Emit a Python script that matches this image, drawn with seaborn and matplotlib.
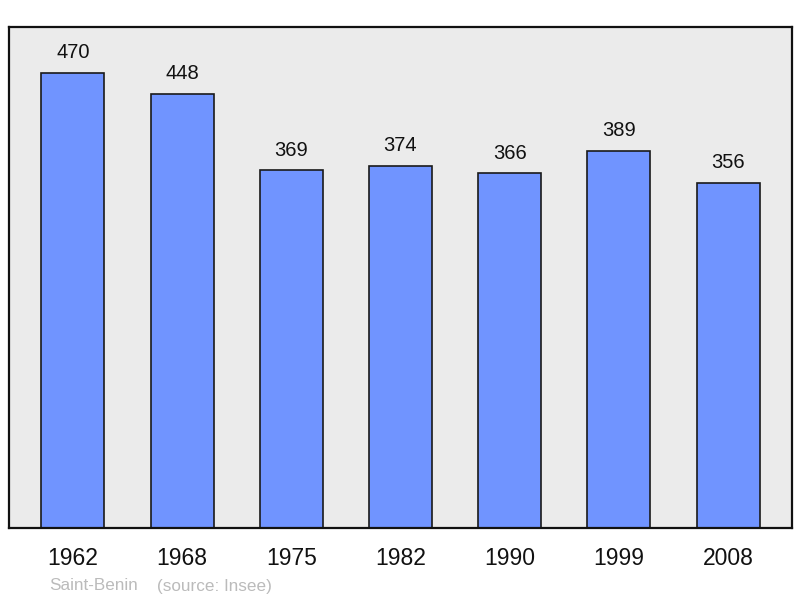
import pandas as pd
import matplotlib.pyplot as plt
import seaborn as sns

years = ["1962", "1968", "1975", "1982", "1990", "1999", "2008"]
population = [470, 448, 369, 374, 366, 389, 356]
commune = "Saint-Benin"
source = "(source: Insee)"

df = pd.DataFrame({"year": years, "population": population})

sns.set_theme(style="white")
plt.rcParams["font.family"] = ["Liberation Sans", "DejaVu Sans"]

fig = plt.figure(figsize=(8, 5.98), dpi=100)
ax = fig.add_axes([9 / 800, 70 / 598, 783 / 800, 501 / 598])
ax.set_facecolor("#ebebeb")

sns.barplot(data=df, x="year", y="population", color="#7094ff", saturation=1,
            width=0.576, edgecolor="#1a1a1a", linewidth=1.2, ax=ax)

# value labels above each bar
for i, v in enumerate(population):
    ax.annotate(str(v), (i, v), xytext=(0, 14.5), textcoords="offset points",
                ha="center", va="center", fontsize=14.5, color="#111111")

ax.set_xlim(-0.585, 6.585)
ax.set_ylim(0, 517)
ax.set_yticks([])
ax.set_xlabel("")
ax.set_ylabel("")
ax.tick_params(axis="x", length=0, labelsize=16.5, pad=13.5, colors="#111111")
for s in ax.spines.values():
    s.set_color("#111111")
    s.set_linewidth(1.6)

fig.text(49 / 800, 1 - 586 / 598, commune, fontsize=12.3, color="#bbbbbb", va="center")
fig.text(157 / 800, 1 - 586 / 598, source, fontsize=12.3, color="#bbbbbb", va="center")

fig.savefig("out.png", dpi=100, facecolor="white")
plt.close()
